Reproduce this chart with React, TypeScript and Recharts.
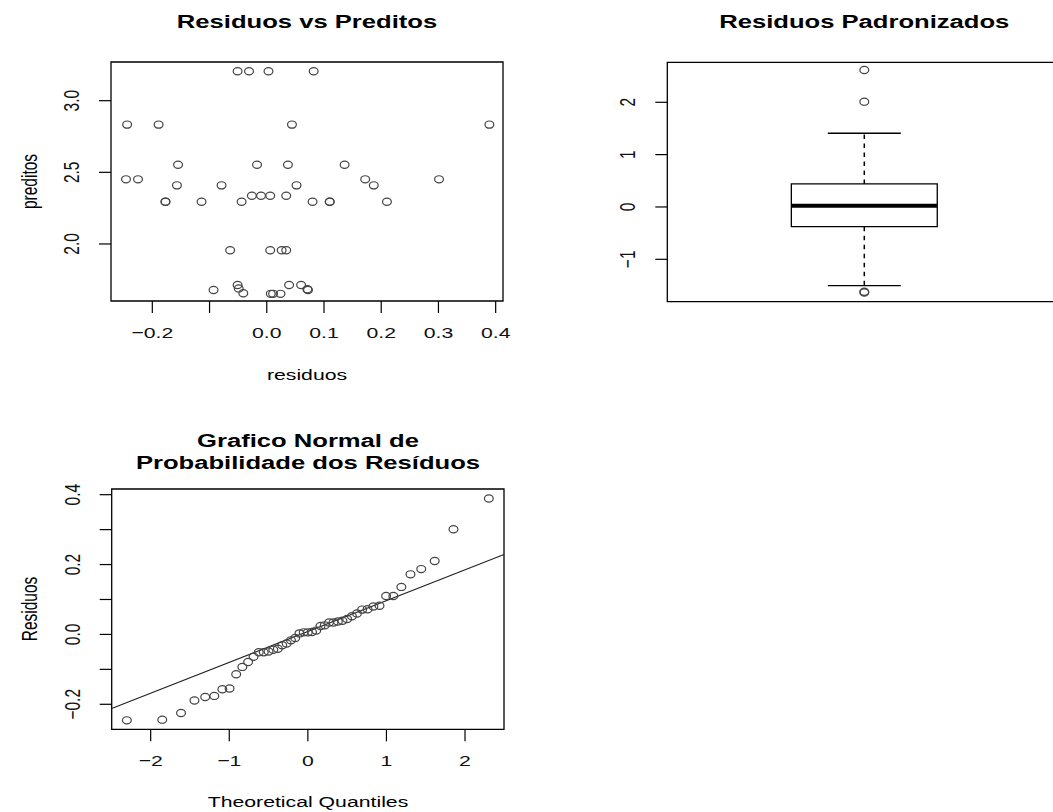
import React from 'react'
import { ScatterChart, Scatter, XAxis, YAxis, ReferenceArea, ReferenceLine } from 'recharts'

// the reference picture is stretched sideways, so text is stretched the same way
const SX = 1.37
const FONT = '"Liberation Sans", Arial, Helvetica, sans-serif'

// ── Residuos vs Preditos ──
const residuos = [
    -0.051, -0.031, 0.003, 0.082,
    -0.244, -0.189, 0.044, 0.389,
    -0.155, -0.017, 0.037, 0.136,
    -0.246, -0.225, 0.172, 0.301,
    -0.157, -0.079, 0.052, 0.187,
    -0.026, -0.010, 0.006, 0.034,
    -0.177, -0.177, -0.114, -0.044, 0.080, 0.110, 0.110, 0.210,
    -0.064, 0.006, 0.026, 0.034,
    -0.093, -0.051, -0.049, -0.041, 0.007, 0.011, 0.024, 0.039, 0.060, 0.072, 0.071,
]
const preditos = [
    3.205, 3.205, 3.205, 3.205,
    2.833, 2.833, 2.833, 2.833,
    2.553, 2.553, 2.553, 2.553,
    2.451, 2.451, 2.451, 2.451,
    2.409, 2.409, 2.409, 2.409,
    2.337, 2.337, 2.337, 2.337,
    2.295, 2.295, 2.295, 2.295, 2.295, 2.295, 2.295, 2.295,
    1.956, 1.956, 1.956, 1.956,
    1.679, 1.714, 1.690, 1.656, 1.652, 1.652, 1.652, 1.714, 1.714, 1.679, 1.684,
]
const xTicks1 = [-0.2, -0.1, 0, 0.1, 0.2, 0.3, 0.4]
const xLabels1 = ['\u22120.2', '', '0.0', '0.1', '0.2', '0.3', '0.4']
const yTicks1 = [2, 2.5, 3]
const yLabels1 = ['2.0', '2.5', '3.0']
const xDomain1: [number, number] = [-0.2722, 0.4128]
const yDomain1: [number, number] = [1.602, 3.27]

// ── Residuos Padronizados (boxplot) ──
const boxStats = [-1.504, -0.376, 0.025, 0.44, 1.408] // lower whisker, Q1, median, Q3, upper whisker
const outliers = [2.618, 2.012, -1.62, -1.635]
const yTicks2 = [-1, 0, 1, 2]
const yLabels2 = ['\u22121', '0', '1', '2']
const yDomain2: [number, number] = [-1.81, 2.764]

// ── Normal Q-Q ──
const teoricos = [
    -2.303, -1.853, -1.614, -1.443, -1.306, -1.190, -1.088, -0.996, -0.912, -0.834,
    -0.760, -0.691, -0.625, -0.561, -0.500, -0.440, -0.382, -0.326, -0.270, -0.215,
    -0.161, -0.107, -0.053, 0, 0.053, 0.107, 0.161, 0.215, 0.270, 0.326,
    0.382, 0.440, 0.500, 0.561, 0.625, 0.691, 0.760, 0.834, 0.912, 0.996,
    1.088, 1.190, 1.306, 1.443, 1.614, 1.853, 2.303,
]
const amostrais = [
    -0.246, -0.244, -0.225, -0.189, -0.179, -0.176, -0.157, -0.155, -0.114, -0.093,
    -0.079, -0.064, -0.051, -0.051, -0.049, -0.044, -0.041, -0.031, -0.026, -0.017,
    -0.010, 0.003, 0.006, 0.006, 0.007, 0.011, 0.024, 0.026, 0.034, 0.034,
    0.037, 0.039, 0.044, 0.052, 0.060, 0.071, 0.072, 0.080, 0.082, 0.110,
    0.110, 0.136, 0.172, 0.187, 0.210, 0.301, 0.389,
]
const qqLine = [{ x: -2.496, y: -0.212 }, { x: 2.496, y: 0.229 }]
const xTicks3 = [-2, -1, 0, 1, 2]
const xLabels3 = ['\u22122', '\u22121', '0', '1', '2']
const yTicks3 = [-0.2, -0.1, 0, 0.1, 0.2, 0.3, 0.4]
const yLabels3 = ['\u22120.2', '', '0.0', '', '0.2', '', '0.4']
const xDomain3: [number, number] = [-2.496, 2.496]
const yDomain3: [number, number] = [-0.2716, 0.4163]

const scatterData = residuos.map((r, i) => ({ x: r, y: preditos[i] }))
const outlierData = outliers.map((v) => ({ x: 1, y: v }))
const qqData = teoricos.map((t, i) => ({ x: t, y: amostrais[i] }))

const TICK_LINE = { stroke: '#000', strokeWidth: 1.2 }

function Ring(props: any) {
    return <ellipse cx={props.cx} cy={props.cy} rx={4.4} ry={3.6} fill="none" stroke="#444" strokeWidth={1.2} />
}

function XTick({ x, y, index, labels }: any) {
    return (
        <text transform={`translate(${x},${y + 25}) scale(${SX},1)`} textAnchor="middle"
            fontSize={15.5} fontFamily={FONT} fill="#111">{labels[index]}</text>
    )
}

function YTick({ x, y, index, labels }: any) {
    return (
        <text transform={`translate(${x - 20},${y}) scale(${SX},1) rotate(-90)`} textAnchor="middle"
            fontSize={15.5} fontFamily={FONT} fill="#111">{labels[index]}</text>
    )
}

function Txt({ x, y, children, bold, size = 15.5, vertical }: any) {
    const rot = vertical ? ' rotate(-90)' : ''
    return (
        <text transform={`translate(${x},${y}) scale(${SX},1)${rot}`} textAnchor="middle"
            fontSize={size} fontWeight={bold ? 'bold' : 'normal'} fontFamily={FONT} fill="#000">{children}</text>
    )
}

export default function App() {
    return (
        <div style={{ position: 'absolute', left: 0, top: 0, width: 1053, height: 812, overflow: 'hidden', background: '#fff' }}>
            {/* ── Residuos vs Preditos ── */}
            <div style={{ position: 'absolute', left: 0, top: 0 }}>
                <ScatterChart width={530} height={400} margin={{ top: 62, right: 27, bottom: 39, left: 0 }}>
                    <XAxis type="number" dataKey="x" domain={xDomain1} ticks={xTicks1} allowDataOverflow interval={0}
                        height={60} tickSize={12} tickMargin={0} axisLine={false} tickLine={TICK_LINE}
                        tick={(p: any) => <XTick {...p} labels={xLabels1} />} />
                    <YAxis type="number" dataKey="y" domain={yDomain1} ticks={yTicks1} allowDataOverflow interval={0}
                        width={111} tickSize={12} tickMargin={0} axisLine={false} tickLine={TICK_LINE}
                        tick={(p: any) => <YTick {...p} labels={yLabels1} />} />
                    <ReferenceArea x1={xDomain1[0]} x2={xDomain1[1]} y1={yDomain1[0]} y2={yDomain1[1]}
                        fill="none" stroke="#000" strokeWidth={1.3} ifOverflow="visible" />
                    <Scatter data={scatterData} shape={Ring} isAnimationActive={false} />
                </ScatterChart>
            </div>

            {/* ── Residuos Padronizados ── */}
            <div style={{ position: 'absolute', left: 561, top: 0 }}>
                <ScatterChart width={501} height={400} margin={{ top: 62.3, right: 0.7, bottom: 98.3, left: 0 }}>
                    <XAxis type="number" dataKey="x" domain={[0.46, 1.54]} allowDataOverflow hide height={0} />
                    <YAxis type="number" dataKey="y" domain={yDomain2} ticks={yTicks2} allowDataOverflow interval={0}
                        width={106.3} tickSize={12} tickMargin={0} axisLine={false} tickLine={TICK_LINE}
                        tick={(p: any) => <YTick {...p} labels={yLabels2} />} />
                    <ReferenceArea x1={0.46} x2={1.54} y1={yDomain2[0]} y2={yDomain2[1]}
                        fill="none" stroke="#000" strokeWidth={1.3} ifOverflow="visible" />
                    <ReferenceLine segment={[{ x: 1, y: boxStats[3] }, { x: 1, y: boxStats[4] }]}
                        stroke="#000" strokeWidth={1.5} strokeDasharray="4.5 4.5" />
                    <ReferenceLine segment={[{ x: 1, y: boxStats[1] }, { x: 1, y: boxStats[0] }]}
                        stroke="#000" strokeWidth={1.5} strokeDasharray="4.5 4.5" />
                    <ReferenceLine segment={[{ x: 0.9, y: boxStats[4] }, { x: 1.1, y: boxStats[4] }]} stroke="#000" strokeWidth={1.3} />
                    <ReferenceLine segment={[{ x: 0.9, y: boxStats[0] }, { x: 1.1, y: boxStats[0] }]} stroke="#000" strokeWidth={1.3} />
                    <ReferenceArea x1={0.8} x2={1.2} y1={boxStats[1]} y2={boxStats[3]}
                        fill="#fff" fillOpacity={1} stroke="#000" strokeWidth={1.3} ifOverflow="visible" />
                    <ReferenceLine segment={[{ x: 0.8, y: boxStats[2] }, { x: 1.2, y: boxStats[2] }]} stroke="#000" strokeWidth={4} />
                    <Scatter data={outlierData} shape={Ring} isAnimationActive={false} />
                </ScatterChart>
            </div>

            {/* ── Grafico Normal de Probabilidade ── */}
            <div style={{ position: 'absolute', left: 0, top: 420 }}>
                <ScatterChart width={530} height={400} margin={{ top: 69, right: 26, bottom: 30.7, left: 0 }}>
                    <XAxis type="number" dataKey="x" domain={xDomain3} ticks={xTicks3} allowDataOverflow interval={0}
                        height={60} tickSize={12} tickMargin={0} axisLine={false} tickLine={TICK_LINE}
                        tick={(p: any) => <XTick {...p} labels={xLabels3} />} />
                    <YAxis type="number" dataKey="y" domain={yDomain3} ticks={yTicks3} allowDataOverflow interval={0}
                        width={111.7} tickSize={12} tickMargin={0} axisLine={false} tickLine={TICK_LINE}
                        tick={(p: any) => <YTick {...p} labels={yLabels3} />} />
                    <ReferenceArea x1={xDomain3[0]} x2={xDomain3[1]} y1={yDomain3[0]} y2={yDomain3[1]}
                        fill="none" stroke="#000" strokeWidth={1.3} ifOverflow="visible" />
                    <ReferenceLine segment={qqLine} stroke="#222" strokeWidth={1.1} />
                    <Scatter data={qqData} shape={Ring} isAnimationActive={false} />
                </ScatterChart>
            </div>

            {/* ── titles and axis names ── */}
            <svg width={1053} height={812} style={{ position: 'absolute', left: 0, top: 0, pointerEvents: 'none' }}>
                <Txt x={307} y={27.5} bold size={18.7}>Residuos vs Preditos</Txt>
                <Txt x={864.3} y={27.5} bold size={18.7}>Residuos Padronizados</Txt>
                <Txt x={308} y={446.5} bold size={18.7}>Grafico Normal de</Txt>
                <Txt x={308} y={469} bold size={18.7}>Probabilidade dos Resíduos</Txt>
                <Txt x={307} y={380}>residuos</Txt>
                <Txt x={37} y={181.5} vertical>preditos</Txt>
                <Txt x={37} y={609} vertical>Residuos</Txt>
                <Txt x={308} y={807}>Theoretical Quantiles</Txt>
            </svg>
        </div>
    )
}
